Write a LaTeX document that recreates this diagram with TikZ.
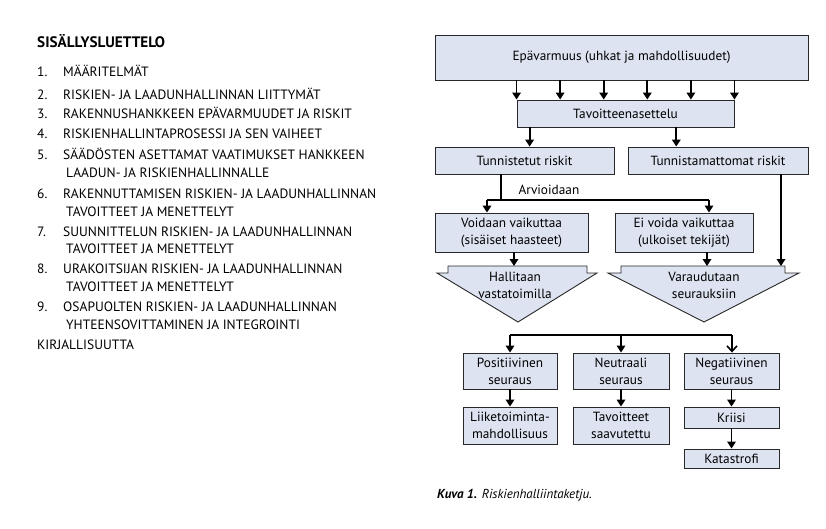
\documentclass[tikz,border=0pt]{standalone}
\usepackage{fontspec}
\setmainfont{PT Sans}
\usetikzlibrary{arrows.meta,calc}
\definecolor{boxfill}{RGB}{221,227,241}
\definecolor{edge}{RGB}{40,40,40}
\begin{document}
\begin{tikzpicture}[x=1pt,y=-1pt,
  box/.style={draw=edge, line width=0.9pt, fill=boxfill, inner sep=0pt, align=center,
              font=\fontsize{13.3}{17}\selectfont},
  arr/.style={line width=1.8pt, -{Triangle[width=8.5pt,length=7pt]}},
  openarr/.style={line width=1.6pt, -{Straight Barb[width=10pt,length=5.5pt]}},
  ln/.style={line width=1.8pt},
  pent/.style={draw=edge, line width=0.9pt, fill=boxfill},
  ptxt/.style={inner sep=0pt, align=center, font=\fontsize{13.3}{17}\selectfont},
  toc/.style={anchor=base west, inner sep=0pt, font=\fontsize{13.5}{16}\selectfont},
  tocnum/.style={anchor=base west, inner sep=0pt, font=\fontsize{13.5}{16}\selectfont},
]
\useasboundingbox[fill=white] (0,0) rectangle (826,528);

% ---------- table of contents ----------
\node[anchor=base west, inner sep=0pt, font=\fontsize{15.2}{18}\selectfont\bfseries] (title) at (37,47.5) {SISÄLLYSLUETTELO};
\node[tocnum] (n1) at (37,76.5) {1.};   \node[toc] (t1) at (63,76.5) {MÄÄRITELMÄT};
\node[tocnum] (n2) at (37,99) {2.};     \node[toc] (t2) at (63,99) {RISKIEN- JA LAADUNHALLINNAN LIITTYMÄT};
\node[tocnum] (n3) at (37,118.5) {3.};  \node[toc] (t3) at (63,118.5) {RAKENNUSHANKKEEN EPÄVARMUUDET JA RISKIT};
\node[tocnum] (n4) at (37,138.5) {4.};  \node[toc] (t4) at (63,138.5) {RISKIENHALLINTAPROSESSI JA SEN VAIHEET};
\node[tocnum] (n5) at (37,159.5) {5.};  \node[toc] (t5) at (63,159.5) {SÄÄDÖSTEN ASETTAMAT VAATIMUKSET HANKKEEN};
\node[toc] (t5b) at (66,177.5) {LAADUN- JA RISKIENHALLINNALLE};
\node[tocnum] (n6) at (37,198) {6.};    \node[toc] (t6) at (63,198) {RAKENNUTTAMISEN RISKIEN- JA LAADUNHALLINNAN};
\node[toc] (t6b) at (66,216) {TAVOITTEET JA MENETTELYT};
\node[tocnum] (n7) at (37,236) {7.};    \node[toc] (t7) at (63,236) {SUUNNITTELUN RISKIEN- JA LAADUNHALLINNAN};
\node[toc] (t7b) at (66,253.5) {TAVOITTEET JA MENETTELYT};
\node[tocnum] (n8) at (37,273.5) {8.};  \node[toc] (t8) at (63,273.5) {URAKOITSIJAN RISKIEN- JA LAADUNHALLINNAN};
\node[toc] (t8b) at (66,291) {TAVOITTEET JA MENETTELYT};
\node[tocnum] (n9) at (37,311.5) {9.};  \node[toc] (t9) at (63,311.5) {OSAPUOLTEN RISKIEN- JA LAADUNHALLINNAN};
\node[toc] (t9b) at (66,329) {YHTEENSOVITTAMINEN JA INTEGROINTI};
\node[toc] (kir) at (37,349) {KIRJALLISUUTTA};

% ---------- diagram boxes ----------
\node[box, minimum width=373pt, minimum height=45pt] (top) at (621.5,57.5) {Epävarmuus (uhkat ja mahdollisuudet)};
\node[box, minimum width=217pt, minimum height=27pt] (tav) at (625.5,113.5) {Tavoitteenasettelu};
\node[box, minimum width=179pt, minimum height=27pt] (tun) at (524.5,160.5) {Tunnistetut riskit};
\node[box, minimum width=180pt, minimum height=27pt] (tum) at (718,160.5) {Tunnistamattomat riskit};
\node[box, minimum width=153pt, minimum height=39pt] (voi) at (511.5,232.5) {Voidaan vaikuttaa\\(sisäiset haasteet)};
\node[box, minimum width=138pt, minimum height=39pt] (ei) at (684,232.5) {Ei voida vaikuttaa\\(ulkoiset tekijät)};

\node[box, minimum width=94pt, minimum height=36pt] (pos) at (510,371) {Positiivinen\\seuraus};
\node[box, minimum width=96pt, minimum height=36pt] (neu) at (621,371) {Neutraali\\seuraus};
\node[box, minimum width=95pt, minimum height=36pt] (neg) at (731.5,371) {Negatiivinen\\seuraus};
\node[box, minimum width=94pt, minimum height=37pt] (lii) at (510,425.5) {Liiketoiminta-\\mahdollisuus};
\node[box, minimum width=96pt, minimum height=37pt] (tvs) at (621,425.5) {Tavoitteet\\saavutettu};
\node[box, minimum width=95pt, minimum height=21pt] (kri) at (731.5,417.5) {Kriisi};
\node[box, minimum width=95pt, minimum height=19pt] (kat) at (731.5,458.5) {Katastrofi};

% ---------- pentagons ----------
\draw[pent] (448,266) -- (587,266) -- (587,273) -- (597,273) -- (518,322) -- (437,273) -- (448,273) -- cycle;
\draw[pent] (621,266) -- (785,266) -- (785,273) -- (799,273) -- (704,322) -- (608,273) -- (621,273) -- cycle;
\node[ptxt] (hal) at (515,285) {Hallitaan\\vastatoimilla};
\node[ptxt] (var) at (704,285) {Varaudutaan\\seurauksiin};
\coordinate (p1a) at (514,266);
\coordinate (p2a) at (707,266);
\coordinate (p2b) at (781,266);

% ---------- connectors ----------
\foreach \f in {0,0.2,0.4,0.6,0.8,1} {
  \path ($(tav.north west)!\f!(tav.north east)$) coordinate (q);
  \draw[arr] (top.south -| q) -- (q);
}
\path ($(tav.south west)!0.06!(tav.south east)$) coordinate (s1);
\path ($(tav.south west)!0.733!(tav.south east)$) coordinate (s2);
\draw[arr] (s1) -- (tun.north -| s1);
\draw[arr] (s2) -- (tum.north -| s2);

\coordinate (split) at (501,200);
\coordinate (aL) at (487,200);
\coordinate (aR) at (709,200);
\draw[ln] (tun.south -| split) -- (split);
\draw[ln] (aL) -- (aR);
\draw[arr] (aL) -- (voi.north -| aL);
\draw[arr] (aR) -- (ei.north -| aR);
\node[inner sep=0pt, font=\fontsize{13.3}{15}\selectfont] (arv) at (549,190) {Arvioidaan};

\draw[arr] (voi.south -| p1a) -- (p1a);
\draw[arr] (ei.south -| p2a) -- (p2a);
\draw[arr] (tum.south -| p2b) -- (p2b);

\coordinate (bL) at (510,335);
\coordinate (bR) at (732,335);
\draw[ln] (bL) -- (bR);
\draw[arr] (bL) -- (pos.north);
\draw[arr] (neu.north |- bL) -- (neu.north);
\draw[openarr] (bR) -- (bR |- neg.north);

\draw[arr] (pos.south) -- (lii.north);
\draw[arr] (neu.south) -- (tvs.north);
\draw[arr] (neg.south) -- (kri.north);
\draw[arr] (kri.south) -- (kat.north);

% ---------- caption ----------
\node[anchor=base west, inner sep=0pt, font=\fontsize{13}{15}\selectfont\itshape] (cap) at (437,498) {\textbf{Kuva 1.} Riskienhalliintaketju.};
\end{tikzpicture}
\end{document}
